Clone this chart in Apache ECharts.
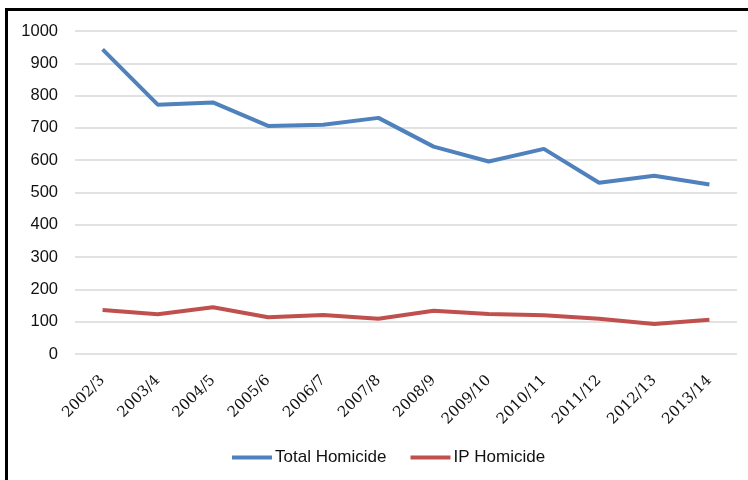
<!DOCTYPE html>
<html>
<head>
<meta charset="utf-8">
<script src="https://cdn.jsdelivr.net/npm/echarts@6/dist/echarts.min.js"></script>
<style>
  html, body { margin: 0; padding: 0; background: #fff; }
  #frame { position: absolute; left: 5px; top: 8px; width: 743px; height: 472px;
           border-top: 3px solid #000; border-left: 3px solid #000; box-sizing: border-box; }
  #chart { position: absolute; left: 0; top: 0; width: 748px; height: 480px; }
</style>
</head>
<body>
<div id="frame"></div>
<div id="chart"></div>
<script>
// Homicide counts per financial year
const years = ['2002/3', '2003/4', '2004/5', '2005/6', '2006/7', '2007/8',
               '2008/9', '2009/10', '2010/11', '2011/12', '2012/13', '2013/14'];
const totalHomicide = [943, 772, 779, 706, 710, 731, 642, 596, 635, 530, 552, 525];
const ipHomicide = [136, 123, 145, 114, 121, 109, 134, 124, 120, 109, 93, 106];
const yTicks = [0, 100, 200, 300, 400, 500, 600, 700, 800, 900, 1000];

const chart = echarts.init(document.getElementById('chart'));
chart.setOption({
  animation: false,
  grid: { left: 75, right: 11, top: 31, bottom: 126 },
  legend: {
    left: 227, top: 444,
    itemWidth: 40, itemHeight: 4, itemGap: 24,
    icon: 'rect',
    textStyle: { fontFamily: 'Liberation Sans, Arial, sans-serif', fontSize: 17, color: '#111', padding: [0, 0, 0, -2] },
    data: ['Total Homicide', 'IP Homicide']
  },
  xAxis: {
    type: 'category',
    data: years,
    boundaryGap: true,
    axisLine: { show: false },
    axisTick: { show: false },
    axisLabel: {
      rotate: 45, margin: 24, interval: 0,
      fontFamily: 'DejaVu Serif, serif', fontSize: 15, color: '#111'
    }
  },
  yAxis: {
    type: 'value',
    min: yTicks[0], max: yTicks[yTicks.length - 1], interval: 100,
    axisLine: { show: false },
    axisTick: { show: false },
    splitLine: { lineStyle: { color: '#d9d9d9', width: 1.5 } },
    axisLabel: {
      margin: 17, fontFamily: 'Liberation Sans, Arial, sans-serif', fontSize: 16.5, color: '#111',
      formatter: (v) => String(v)
    }
  },
  series: [
    {
      name: 'Total Homicide', type: 'line', data: totalHomicide,
      symbol: 'none', color: '#4F81BD',
      lineStyle: { width: 4, color: '#4F81BD' }
    },
    {
      name: 'IP Homicide', type: 'line', data: ipHomicide,
      symbol: 'none', color: '#C0504D',
      lineStyle: { width: 4, color: '#C0504D' }
    }
  ]
});
</script>
</body>
</html>
